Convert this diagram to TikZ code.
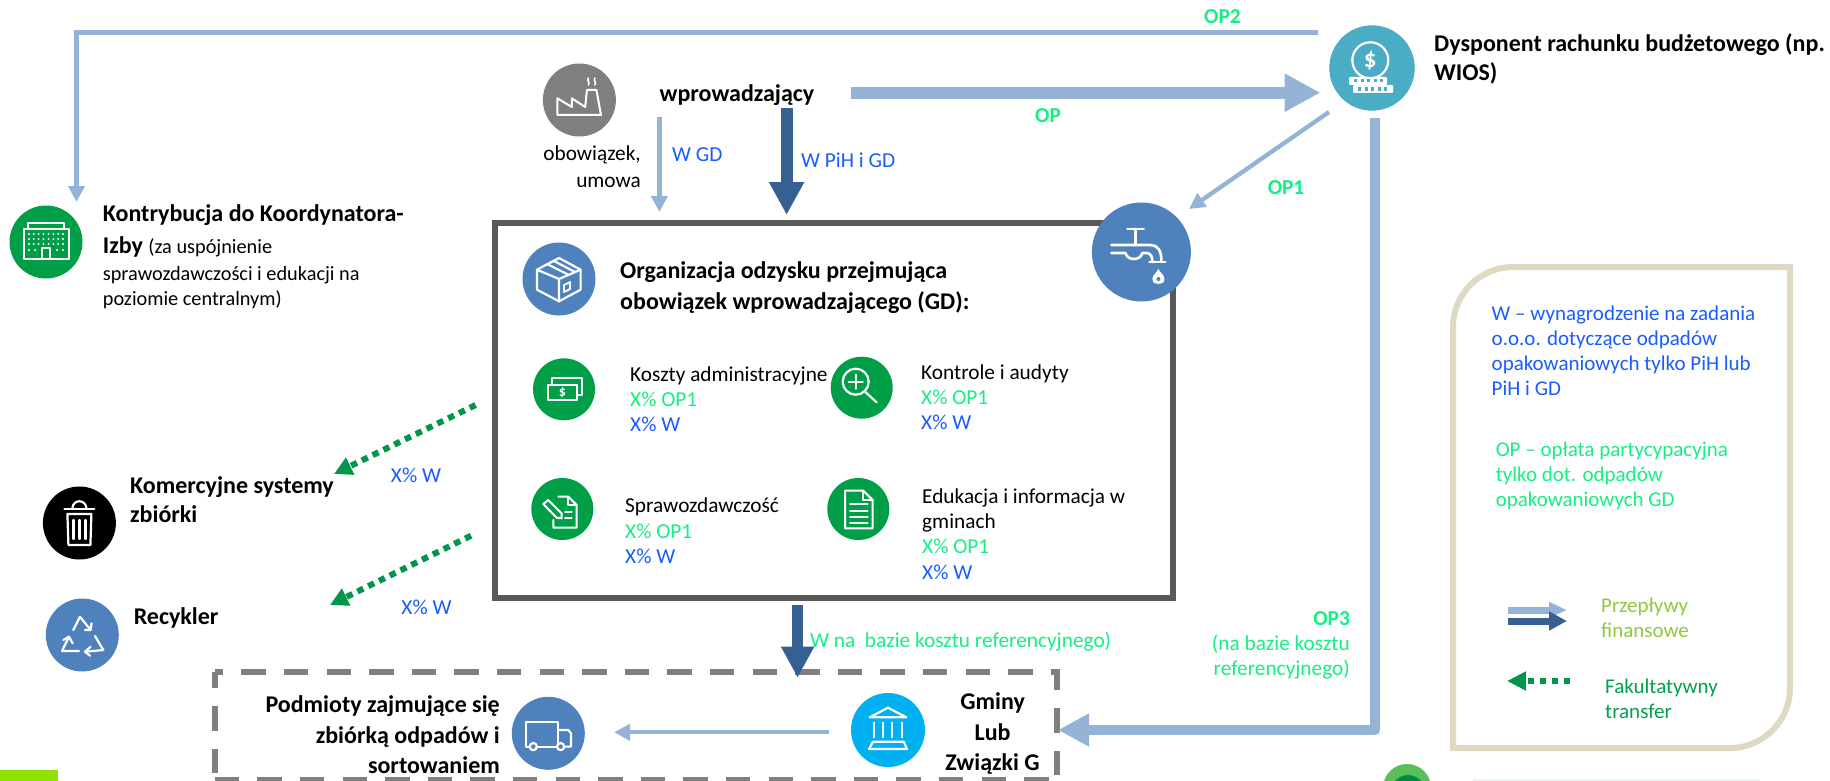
\documentclass[tikz,border=0pt]{standalone}
\usepackage{fontspec}
\setmainfont{Carlito}
\usetikzlibrary{arrows.meta}
\definecolor{lblue}{HTML}{95B3D7}
\definecolor{dblue}{HTML}{376092}
\definecolor{mblue}{HTML}{4F81BD}
\definecolor{tgreen}{HTML}{14F082}
\definecolor{tblue}{HTML}{1A5CFF}
\definecolor{cgreen}{HTML}{009F47}
\definecolor{agreen}{HTML}{00964B}
\definecolor{teal1}{HTML}{4BACC6}
\definecolor{sky}{HTML}{00B0F0}
\definecolor{boxgrey}{HTML}{595959}
\definecolor{dashgrey}{HTML}{7F7F7F}
\definecolor{sand}{HTML}{DDD9C3}
\definecolor{lime}{HTML}{92C83E}
\definecolor{fgreen}{HTML}{00A050}
\tikzset{
  x=1pt,y=-1pt,
  disc/.style={circle,inner sep=0pt,minimum size=#1,draw=none},
  ico/.style={draw=white,line width=2.2pt,line cap=round,line join=round,fill=none},
  txt/.style={inner sep=0pt,anchor=west,align=left,font=\fontsize{21.3}{25}\selectfont},
  legtxt/.style={txt,font=\fontsize{21}{25}\selectfont},
  head/.style={inner sep=0pt,anchor=west,align=left,font=\fontsize{24}{29}\selectfont\bfseries},
  lab/.style={inner sep=0pt,font=\fontsize{21.3}{25}\selectfont,text=tblue},
  oplab/.style={inner sep=0pt,font=\fontsize{21.3}{25}\selectfont\bfseries,text=tgreen},
  thinflow/.style={draw=lblue,line width=4.3pt,-{Triangle[length=16pt,width=16pt]}},
  wideflow/.style={draw=lblue,line width=11pt,line join=round,-{Triangle[length=36pt,width=36pt]}},
  darkflow/.style={draw=dblue,line width=11pt,-{Triangle[length=32pt,width=32pt]}},
  dotflow/.style={draw=agreen,line width=6pt,dash pattern=on 6.5pt off 5.5pt,-{Triangle[length=18pt,width=18pt]}},
}
\begin{document}
\begin{tikzpicture}
\path[use as bounding box,clip] (0,0) rectangle (1830,781);
\fill[white] (0,0) rectangle (1830,781);
% bottom remnants
\fill[fill={rgb,255:red,146;green,224;blue,0}] (0,770) rectangle (58,781);
\fill[fill={rgb,255:red,90;green,190;blue,90}] (1407,788) circle (24);
\fill[fill={rgb,255:red,0;green,140;blue,70}] (1408,792) circle (17);
\fill[fill={rgb,255:red,235;green,245;blue,238}] (1473,779) rectangle (1760,781);

% main box
\draw[draw=boxgrey,line width=6pt,fill=white] (495,223) rectangle (1173,598);
% dashed box
\draw[draw=dashgrey,line width=5.7pt,dash pattern=on 24.5pt off 18.1pt,dash phase=16pt] (214.7,672) -- (1057,672) -- (1057,780);
\draw[draw=dashgrey,line width=5.7pt,dash pattern=on 24.5pt off 18.1pt,dash phase=8.5pt] (214.7,672) -- (214.7,780);
\draw[draw=dashgrey,line width=5.7pt,dash pattern=on 24.5pt off 18.1pt] (214.7,780) -- (1057,780);
% legend box
\draw[draw=sand,line width=6pt] (1453,748) -- (1453,327) .. controls (1453,294) and (1480,267) .. (1513,267) -- (1790,267) -- (1790,688) .. controls (1790,721) and (1763,748) .. (1730,748) -- cycle;

% discs
\node[disc=85.4pt,fill=teal1] (disp) at (1372,68) {};
\node[disc=73pt,fill=dashgrey] (fact) at (579.4,100) {};
\node[disc=99pt,fill=mblue] (tap) at (1141.4,252) {};
\node[disc=73pt,fill=cgreen] (koord) at (46,242) {};
\node[disc=73pt,fill=mblue] (org) at (559,279) {};
\node[disc=62pt,fill=cgreen] (koszt) at (564,389.3) {};
\node[disc=62pt,fill=cgreen] (kontr) at (861.7,387.7) {};
\node[disc=62pt,fill=cgreen] (spraw) at (562.3,509) {};
\node[disc=62pt,fill=cgreen] (eduk) at (858.3,509) {};
\node[disc=73pt,fill=black] (trash) at (79.4,523) {};
\node[disc=73pt,fill=mblue] (recy) at (82.3,635) {};
\node[disc=73pt,fill=mblue] (truck) at (548.3,733.3) {};
\node[disc=74pt,fill=sky] (bank) at (888,730) {};

% free connector ends
\coordinate (op2a) at (1318,32.5);
\coordinate (op2b) at (76.5,32.5);
\coordinate (op2c) at (76.5,202);
\coordinate (opa) at (851,92.7);
\coordinate (opb) at (1320.5,92.7);
\coordinate (wgda) at (659.4,117);
\coordinate (wgdb) at (659.4,212);
\coordinate (wpa) at (786.6,108);
\coordinate (wpb) at (786.6,215);
\coordinate (op1a) at (1329,112);
\coordinate (op1b) at (1189,209);
\coordinate (op3a) at (1375,118);
\coordinate (op3b) at (1375,730);
\coordinate (op3c) at (1058,730);
\coordinate (wna) at (797.6,605);
\coordinate (wnb) at (797.6,677.7);
\coordinate (gma) at (829,732.3);
\coordinate (gmb) at (614,732.3);
\coordinate (d1a) at (475.6,405);
\coordinate (d1b) at (334,474);
\coordinate (d2a) at (471,535.7);
\coordinate (d2b) at (330,605);
\coordinate (la) at (1508,610);
\coordinate (lb) at (1567,610);
\coordinate (lc) at (1508,621);
\coordinate (ld) at (1567,621);
\coordinate (le) at (1570,681);
\coordinate (lf) at (1507,681);

% connectors
\draw[thinflow] (op2a) -- (op2b) -- (op2c);
\draw[wideflow,line width=12pt] (opa) -- (opb);
\draw[thinflow] (wgda) -- (wgdb);
\draw[darkflow,line width=12pt,-{Triangle[length=33pt,width=33pt]}] (wpa) -- (wpb);
\draw[thinflow] (op1a) -- (op1b);
\draw[wideflow,line width=10.6pt,-{Triangle[length=31pt,width=31pt]}] (op3a) -- (op3b) -- (op3c);
\draw[darkflow,line width=10.5pt,-{Triangle[length=31pt,width=31pt]}] (wna) -- (wnb);
\draw[thinflow] (gma) -- (gmb);
\draw[dotflow] (d1a) -- (d1b);
\draw[dotflow] (d2a) -- (d2b);
\draw[draw=lblue,line width=7pt,-{Triangle[length=18pt,width=15pt]}] (la) -- (lb);
\draw[draw=dblue,line width=7pt,-{Triangle[length=18pt,width=18pt]}] (lc) -- (ld);
\draw[dotflow,line width=5.5pt,-{Triangle[length=19pt,width=18pt]}] (le) -- (lf);

% texts
\node[oplab] (top2) at (1222.5,17) {OP2};
\node[oplab] (top) at (1048,116) {OP};
\node[oplab] (top1) at (1286,188) {OP1};
\node[head] (tdisp) at (1434,59) {Dysponent rachunku budżetowego (np.\\WIOS)};
\node[head,anchor=center] (twpr) at (737,95) {wprowadzający};
\node[txt,anchor=east,align=right] (tobo) at (641,166.5) {obowiązek,\\[2pt]umowa};
\node[lab,anchor=west] (twgd) at (672,155) {W GD};
\node[lab,anchor=west] (twpih) at (801,160.7) {W PiH i GD};
\node[head,font=\fontsize{24}{25}\selectfont] (tkoord) at (102.7,257) {\textbf{Kontrybucja do Koordynatora-}\\[7pt]\textbf{Izby} {\fontsize{20.3}{25}\selectfont\mdseries (za uspójnienie}\\[2pt]{\fontsize{20.3}{25}\selectfont\mdseries sprawozdawczości i edukacji na}\\{\fontsize{20.3}{25}\selectfont\mdseries poziomie centralnym)}};
\node[head,font=\fontsize{24}{31.5}\selectfont\bfseries] (torg) at (620,287.5) {Organizacja odzysku przejmująca\\obowiązek wprowadzającego (GD):};
\node[txt] (tkoszt) at (630,399) {Koszty administracyjne\\\textcolor{tgreen}{X\% OP1}\\\textcolor{tblue}{X\% W}};
\node[txt] (tkontr) at (921,397.5) {Kontrole i audyty\\\textcolor{tgreen}{X\% OP1}\\\textcolor{tblue}{X\% W}};
\node[txt] (tspraw) at (625,531) {Sprawozdawczość\\[1pt]\textcolor{tgreen}{X\% OP1}\\\textcolor{tblue}{X\% W}};
\node[txt] (teduk) at (922,534.5) {Edukacja i informacja w\\gminach\\\textcolor{tgreen}{X\% OP1}\\[1pt]\textcolor{tblue}{X\% W}};
\node[lab] (tx1) at (416,475) {X\% W};
\node[lab] (tx2) at (426.5,607.7) {X\% W};
\node[head] (tkom) at (130,499.5) {Komercyjne systemy\\zbiórki};
\node[head] (trec) at (133.6,618) {Recykler};
\node[lab,anchor=west,text=tgreen] (twna) at (810,641.7) {W na~ bazie kosztu referencyjnego)};
\node[txt,anchor=east,align=right,text=tgreen] (top3) at (1350,645.5) {\textbf{OP3}\\(na bazie kosztu\\referencyjnego)};
\node[head,anchor=east,align=right,font=\fontsize{24}{30.5}\selectfont\bfseries] (tpod) at (500,735) {Podmioty zajmujące się\\zbiórką odpadów i\\sortowaniem};
\node[head,anchor=center,align=center,font=\fontsize{24}{30.5}\selectfont\bfseries] (tgm) at (992.6,734) {Gminy\\Lub\\Związki G};
\node[legtxt,text=tblue] (tlw) at (1491.5,351) {W – wynagrodzenie na zadania\\o.o.o. dotyczące odpadów\\opakowaniowych tylko PiH lub\\PiH i GD};
\node[legtxt,text=tgreen] (tlop) at (1495.6,475.5) {OP – opłata partycypacyjna\\tylko dot. odpadów\\opakowaniowych GD};
\node[legtxt,text=lime] (tlp) at (1601,617.5) {Przepływy\\finansowe};
\node[legtxt,text=fgreen] (tlf) at (1605,698.5) {Fakultatywny\\transfer};

% icons
\begin{scope}[shift={(disp.center)}]
\draw[ico] (-1.7,-7.7) circle (18);
\node[inner sep=0pt,text=white,font=\fontsize{25}{25}\selectfont\bfseries] at (-1.7,-7.7) {\$};
\fill[white,rounded corners=1pt] (-23,9) rectangle (15,17);
\fill[white,rounded corners=1pt] (-19,17) rectangle (21,25);
\foreach \k in {0,...,4}{\fill[teal1] (-18+\k*6.5,11) rectangle ++(3.4,3.4);\fill[teal1] (-14+\k*6.5,19.5) rectangle ++(3.4,3.4);}
\end{scope}
\begin{scope}[shift={(tap.center)}]
\draw[ico,line width=2.6pt] (-14,-23) -- (2.3,-23) (-6,-23) -- (-6,-7);
\draw[ico,line width=2.6pt] (-30,-7) -- (9,-7) .. controls (16,-7) and (20,-2) .. (20,9);
\draw[ico,line width=2.6pt] (-30,1) -- (-16,1) .. controls (-14,9) and (-1,9) .. (1,1) -- (5,1) .. controls (9,1) and (11,4) .. (11,10);
\draw[ico,line width=2.6pt] (8,10) -- (24,10);
\fill[white] (17,17) .. controls (19,21) and (23,23) .. (23,27) .. controls (23,31) and (20,32) .. (17,32) .. controls (14,32) and (11,31) .. (11,27) .. controls (11,23) and (15,21) .. (17,17) -- cycle;
\fill[mblue] (17,27) circle (2);
\end{scope}
\begin{scope}[shift={(fact.center)}]
\draw[ico,line width=2pt] (-22,15) -- (-22,-1.7) -- (-7.6,7) -- (-7.6,-1.7) -- (5.8,7) -- (7.5,-10) -- (17,-10) -- (21.6,15) -- cycle;
\draw[ico,line width=1.6pt] (9,-22) .. controls (7,-19) and (11,-18) .. (9,-15) (15.5,-22) .. controls (13.5,-19) and (17.5,-18) .. (15.5,-15);
\end{scope}
\begin{scope}[shift={(koord.center)}]
\draw[ico,line width=2pt] (-22.5,17) rectangle (22.5,-13);
\draw[ico,line width=2pt] (-18,-13) -- (-18,-19) -- (18,-19) -- (18,-13);
\draw[ico,line width=2pt] (-4,17) -- (-4,6) -- (4,6) -- (4,17);
\foreach \c in {-17,-12.2,-7.4,-2.6,2.6,7.4,12.2,17}{\foreach \r in {-8,-3,2}{\fill[white] (\c,\r) circle (1.1);}}
\foreach \c in {-17,-11,11,17}{\fill[white] (\c,8) circle (1.1);}
\end{scope}
\begin{scope}[shift={(org.center)}]
\draw[ico] (0,-21) -- (21.6,-9.3) -- (21.6,10.7) -- (0,22.3) -- (-22,10.7) -- (-22,-9.3) -- cycle;
\draw[ico] (-22,-9.3) -- (0,0) -- (21.6,-9.3) (0,0) -- (0,22.3);
\draw[ico] (-12,-15) -- (10,-4) (-5,-18) -- (16,-7);
\draw[ico,line width=1.8pt] (5,6) -- (11,3) -- (11,10) -- (5,13) -- cycle;
\end{scope}
\begin{scope}[shift={(koszt.center)}]
\draw[ico,line width=2pt] (-16.3,-4.3) rectangle (12.7,10.7);
\draw[ico,line width=2pt] (-11.7,-4.3) -- (-11.7,-11) -- (17.7,-11) -- (17.7,5.7) -- (12.7,5.7);
\node[inner sep=0pt,text=white,font=\fontsize{14}{14}\selectfont\bfseries] at (-1.7,3) {\$};
\end{scope}
\begin{scope}[shift={(kontr.center)}]
\draw[ico] (-6,-6) circle (13);
\draw[ico] (-13,-6) -- (1,-6) (-6,-13) -- (-6,1);
\draw[ico] (3.3,4) -- (15,14.7);
\end{scope}
\begin{scope}[shift={(spraw.center)}]
\draw[ico,line width=2pt] (-4,-12.3) -- (6,-12.3) -- (14.3,-4) -- (14.3,18.7) -- (-9,18.7) -- (-9,11);
\draw[ico,line width=2pt] (6,-12.3) -- (6,-4) -- (14.3,-4);
\draw[ico,line width=2pt] (-19,-5) -- (-14,-9) -- (-0.7,4.3) -- (-0.7,9.3) -- (-5.7,8.7) -- cycle;
\draw[ico,line width=2pt] (2.7,3.3) -- (9.3,3.3) (2.7,9.3) -- (9.3,9.3);
\end{scope}
\begin{scope}[shift={(eduk.center)}]
\draw[ico,line width=2pt] (-13.3,-18.3) -- (5,-18.3) -- (14.3,-9) -- (14.3,19.3) -- (-13.3,19.3) -- cycle;
\draw[ico,line width=2pt] (5,-18.3) -- (5,-9) -- (14.3,-9);
\draw[ico,line width=2pt] (-8.3,-5) -- (9.3,-5) (-8.3,1.7) -- (9.3,1.7) (-8.3,8.3) -- (9.3,8.3) (-8.3,14.3) -- (9.3,14.3);
\end{scope}
\begin{scope}[shift={(trash.center)}]
\draw[ico] (-15,-14) -- (15,-14);
\draw[ico] (-7,-15) .. controls (-6,-24) and (6,-24) .. (7,-15);
\draw[ico] (-12,-9) -- (-11,22) -- (11,22) -- (12,-9) -- cycle;
\draw[ico] (-6,-3) -- (-6,16) (0,-3) -- (0,16) (6,-3) -- (6,16);
\end{scope}
\begin{scope}[shift={(recy.center)}]
\draw[ico] (-9,-5) -- (-2.3,-18.3) -- (8.3,-5);
\draw[ico] (2.7,-5) -- (8.3,-5) -- (9.3,-11.7);
\draw[ico] (-3.3,16) -- (-20.3,16) -- (-13.3,1.7);
\draw[ico] (-19,5) -- (-13.3,1.7) -- (-9.7,8.3);
\draw[ico] (12.7,1) -- (21,15) -- (2.7,16.7);
\draw[ico] (8.3,11.7) -- (2.7,16.7) -- (7.7,20.7);
\end{scope}
\begin{scope}[shift={(truck.center)}]
\draw[ico] (-19,13.3) -- (-22.3,13.3) -- (-22.3,-11.7) -- (10,-11.7) -- (10,13.3) -- (-11,13.3);
\draw[ico] (10,-3.3) -- (20,-3.3) -- (22.7,0) -- (22.7,13.3) -- (16,13.3);
\draw[ico] (10,13.3) -- (8.5,13.3);
\draw[ico,fill=mblue] (-15,13.3) circle (3.6);
\draw[ico,fill=mblue] (12.3,13.3) circle (3.6);
\end{scope}
\begin{scope}[shift={(bank.center)}]
\draw[ico] (-18.3,-12.7) -- (0,-22.3) -- (18.3,-12.7) -- cycle;
\draw[ico] (-14.3,-7.3) -- (-14.3,7.3) (-5,-7.3) -- (-5,7.3) (4.3,-7.3) -- (4.3,7.3) (14,-7.3) -- (14,7.3);
\draw[ico] (-15,11.7) -- (15.7,11.7) -- (19,19) -- (-19,19) -- cycle;
\end{scope}
\end{tikzpicture}
\end{document}
